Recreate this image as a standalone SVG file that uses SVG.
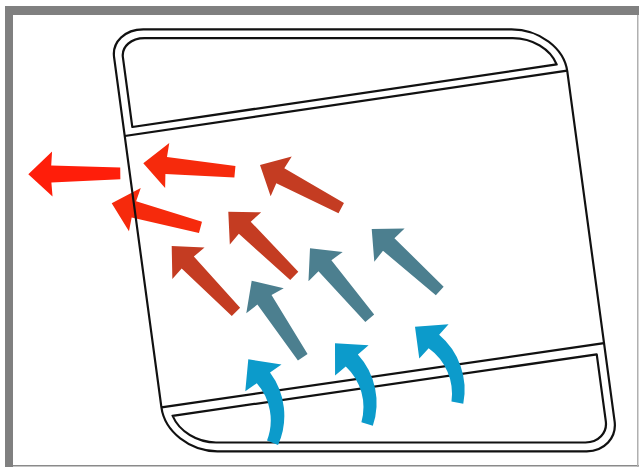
<svg xmlns="http://www.w3.org/2000/svg" xmlns:xlink="http://www.w3.org/1999/xlink" width="639" height="467" viewBox="0 0 639 467">
<defs>
<style>
.ln{fill:none;stroke:#111;stroke-width:2.2;stroke-linejoin:round}
.r1{fill:#FF1E0A}
.r2{fill:#F62A0C}
.o{fill:#C43C22}
.t{fill:#4C7F8F}
.b{fill:#0C9BCB}
.fr{fill:#808080}
</style>
<polygon id="arr" points="0,0 24,-22.5 23,-8.5 92,-5.8 92,5.8 23,8.5 24,22.5"/>
<path id="carr" d="M0,0 L25,-22.5 L24,-8.5 A72 72 0 0 1 85.4,30.9 L74.8,36.5 A56 56 0 0 0 24,8.5 L23,22.5 Z"/>
</defs>
<rect width="639" height="467" fill="#fff"/>
<g id="frame">
<rect class="fr" x="5" y="6" width="634" height="9"/>
<rect class="fr" x="5" y="6" width="8" height="461"/>
<rect x="13" y="465" width="626" height="1.5" fill="#8a8a8a"/>
<rect x="637" y="15" width="1.5" height="452" fill="#b0b0b0"/>
</g>
<g id="arrows-back">
<use href="#arr" class="r1" transform="translate(28.3,174.3) rotate(-0.6)"/>
<use href="#arr" class="r2" transform="translate(143.3,163.3) rotate(5.3)"/>
<use href="#arr" class="r2" transform="translate(111.7,203.3) rotate(15.2)"/>
<use href="#arr" class="o" transform="translate(260,165) rotate(28)"/>
<use href="#arr" class="o" transform="translate(228.3,211.7) rotate(44.2)"/>
<use href="#arr" class="o" transform="translate(171.7,246) rotate(45.7)"/>
<use href="#arr" class="t" transform="translate(251.7,280.7) rotate(56.3)"/>
<use href="#arr" class="t" transform="translate(310,248.3) rotate(49.5)"/>
<use href="#arr" class="t" transform="translate(371.7,229) rotate(42.3)"/>
</g>
<g id="housing" transform="translate(110.3,29.3) skewX(7.7)">
<path class="ln" d="M33,0 H401.3 A50,42 0 0 1 451.3,42 V392 A32,30 0 0 1 419.3,422 H50 A50,44 0 0 1 0,378 V28 A33,28 0 0 1 33,0 Z"/>
<line class="ln" x1="0" y1="106.7" x2="451.3" y2="41.4"/>
<line class="ln" x1="0" y1="378" x2="451.3" y2="313.9"/>
<path id="top-band" class="ln" d="M8.8,97.7 V27.8 A24.2,19.2 0 0 1 33,8.8 H401.3 A41.2,33.2 0 0 1 441.6,35.1 Z"/>
<path id="bottom-band" class="ln" d="M10,386.5 L442.5,325.1 V392 A23.2,21.2 0 0 1 419.3,413.2 H50 A41.2,35.2 0 0 1 10,386.5 Z"/>
</g>
<g id="arrows-front">
<use href="#carr" class="b" transform="translate(248.3,359.3) rotate(51)"/>
<use href="#carr" class="b" transform="translate(335,343.3) rotate(45.5)"/>
<use href="#carr" class="b" transform="translate(415,326.7) rotate(38)"/>
</g>
</svg>
